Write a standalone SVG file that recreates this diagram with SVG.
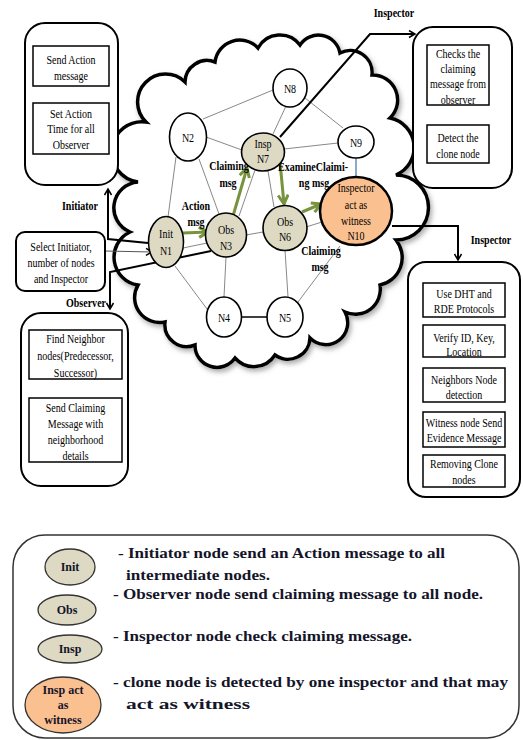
<svg xmlns="http://www.w3.org/2000/svg" width="523" height="740" viewBox="0 0 523 740">
<defs>
<style>
text{font-family:'Liberation Serif','DejaVu Serif',serif}
.t{font-size:13px;text-anchor:middle;fill:#000}
.b{font-weight:bold}
.lg{font-weight:bold;font-size:15px;fill:#15152a}
.ll{font-weight:bold;font-size:12px;fill:#15152a;text-anchor:middle}
.box{fill:#fff;stroke:#000;stroke-width:2}
.ibox{fill:#fff;stroke:#000;stroke-width:1.5}
.wn{fill:#fff;stroke:#000;stroke-width:1.6}
.tn{fill:#ddd9c3;stroke:#000;stroke-width:1.6}
.edge{stroke:#555;stroke-width:0.7;fill:none}
.conn{stroke:#000;stroke-width:2;fill:none}
.green{stroke:#77933c;stroke-width:3;fill:none}
</style>
<marker id="ga" markerUnits="userSpaceOnUse" markerWidth="14" markerHeight="14" refX="10" refY="6" orient="auto">
<path d="M1,1 L10,6 L1,11" fill="none" stroke="#77933c" stroke-width="3"/>
</marker>
<marker id="ba" markerUnits="userSpaceOnUse" markerWidth="10" markerHeight="10" refX="7" refY="4.5" orient="auto">
<path d="M1,1 L7,4.5 L1,8" fill="none" stroke="#000" stroke-width="1.5"/>
</marker>
<filter id="sh" x="-10%" y="-10%" width="125%" height="125%">
<feDropShadow dx="2" dy="3" stdDeviation="2.5" flood-color="#777" flood-opacity="0.6"/>
</filter>
</defs>
<rect width="523" height="740" fill="#fff"/>

<g id="cloud">
<path filter="url(#sh)" fill="#fff" stroke="#000" stroke-width="3.5" d="M138,182 A24,24 0 0 1 146,122 A25,25 0 0 1 185,82 A22,22 0 0 1 215,62 A25,25 0 0 1 258,48 A25,25 0 0 1 300,45 A22,22 0 0 1 340,53 A22,22 0 0 1 372,75 A25,25 0 0 1 390,118 A30,30 0 0 1 396,175 A32,32 0 0 1 396,240 A28,28 0 0 1 380,285 A25,25 0 0 1 345,312 A22,22 0 0 1 310,338 A22,22 0 0 1 275,355 A25,25 0 0 1 235,358 A22,22 0 0 1 195,345 A22,22 0 0 1 165,322 A25,25 0 0 1 138,285 A28,28 0 0 1 130,232 A26,26 0 0 1 138,182 Z"/>
</g>

<g id="connectors">
<line class="edge" x1="203" y1="119" x2="273" y2="90"/>
<line class="edge" x1="206" y1="137" x2="242" y2="150"/>
<line class="edge" x1="286" y1="106" x2="273" y2="134"/>
<line class="edge" x1="305" y1="98" x2="343" y2="128"/>
<line class="edge" x1="284" y1="149" x2="338" y2="143"/>
<line class="edge" x1="176" y1="157" x2="168" y2="217"/>
<line class="edge" x1="199" y1="159" x2="219" y2="214"/>
<line class="edge" x1="255" y1="170" x2="239" y2="216"/>
<line class="edge" x1="268" y1="171" x2="274" y2="207"/>
<line class="edge" x1="183" y1="248" x2="207" y2="243"/>
<line class="edge" x1="246" y1="235" x2="263" y2="232"/>
<line class="edge" x1="306" y1="227" x2="322" y2="222"/>
<line class="edge" x1="175" y1="266" x2="210" y2="313"/>
<line class="edge" x1="226" y1="257" x2="224" y2="297"/>
<line class="edge" x1="285" y1="250" x2="288" y2="297"/>
<line class="edge" x1="340" y1="246" x2="298" y2="302"/>
<line x1="242" y1="317" x2="267" y2="317" stroke="#000" stroke-width="1.5"/>
<line x1="356" y1="158" x2="356" y2="177" stroke="#4a7ebb" stroke-width="1.3"/>
<line class="green" x1="183" y1="233" x2="208" y2="232" marker-end="url(#ga)"/>
<line class="green" x1="233" y1="216" x2="247" y2="168" marker-end="url(#ga)"/>
<line class="green" x1="280" y1="162" x2="284" y2="204" marker-end="url(#ga)"/>
<line class="green" x1="302" y1="212" x2="321" y2="204" marker-end="url(#ga)"/>
<polyline class="conn" points="148,243 108,239 108,189" marker-end="url(#ba)"/>
<line x1="105" y1="251" x2="152" y2="252" stroke="#555" stroke-width="1" marker-end="url(#ba)"/>
<polyline class="conn" points="211,251 110,272 110,309" marker-end="url(#ba)"/>
<polyline class="conn" points="280,137 370,34 415,34" marker-end="url(#ba)"/>
<polyline class="conn" points="392,226 458,226 458,260" marker-end="url(#ba)"/>
<text class="t b" transform="translate(80,210) scale(0.77,1)">Initiator</text>
<text class="t b" transform="translate(86,307) scale(0.77,1)">Observer</text>
<text class="t b" transform="translate(394,17) scale(0.77,1)">Inspector</text>
<text class="t b" transform="translate(491,244) scale(0.77,1)">Inspector</text>
<text class="t b" transform="translate(196,210) scale(0.77,1)">Action</text>
<text class="t b" transform="translate(196,226) scale(0.77,1)">msg</text>
<text class="t b" transform="translate(229,170) scale(0.77,1)">Claiming</text>
<text class="t b" transform="translate(228,187) scale(0.77,1)">msg</text>
<text class="t b" transform="translate(313,171) scale(0.77,1)">ExamineClaimi-</text>
<text class="t b" transform="translate(314,187) scale(0.77,1)">ng msg</text>
<text class="t b" transform="translate(321,255) scale(0.77,1)">Claiming</text>
<text class="t b" transform="translate(320,271) scale(0.77,1)">msg</text>
</g>

<g id="box-initiator">
<rect class="box" x="25" y="23" width="93" height="162" rx="20"/>
<rect class="ibox" x="33" y="46" width="76" height="40"/>
<rect class="ibox" x="33" y="103" width="76" height="51"/>
<text class="t" transform="translate(71,63.5) scale(0.77,1)">Send Action</text>
<text class="t" transform="translate(71,79.5) scale(0.77,1)">message</text>
<text class="t" transform="translate(71,117.5) scale(0.77,1)">Set Action</text>
<text class="t" transform="translate(71,133) scale(0.77,1)">Time for  all</text>
<text class="t" transform="translate(71,149) scale(0.77,1)">Observer</text>
</g>

<g id="box-inspector-top">
<rect class="box" x="413" y="27" width="99" height="161" rx="20"/>
<rect class="ibox" x="427" y="45" width="62" height="60"/>
<rect class="ibox" x="427" y="125" width="62" height="38"/>
<text class="t" transform="translate(458,57.5) scale(0.77,1)">Checks the</text>
<text class="t" transform="translate(458,72.5) scale(0.77,1)">claiming</text>
<text class="t" transform="translate(458,88) scale(0.77,1)">message  from</text>
<text class="t" transform="translate(458,103.5) scale(0.77,1)">observer</text>
<text class="t" transform="translate(458,141.5) scale(0.77,1)">Detect the</text>
<text class="t" transform="translate(458,157.5) scale(0.77,1)">clone node</text>
</g>

<g id="box-select">
<rect class="box" x="16" y="232" width="89" height="59" rx="9"/>
<text class="t" transform="translate(61,251) scale(0.77,1)">Select Initiator,</text>
<text class="t" transform="translate(61,266.5) scale(0.77,1)">number of nodes</text>
<text class="t" transform="translate(61,282.5) scale(0.77,1)">and Inspector</text>
</g>

<g id="box-observer">
<rect class="box" x="21" y="313" width="107" height="173" rx="20"/>
<rect class="ibox" x="29" y="330" width="93" height="49"/>
<rect class="ibox" x="29" y="398" width="93" height="64"/>
<text class="t" transform="translate(75.5,342.5) scale(0.77,1)">Find Neighbor</text>
<text class="t" transform="translate(75.5,359.5) scale(0.77,1)">nodes(Predecessor,</text>
<text class="t" transform="translate(75.5,376.5) scale(0.77,1)">Successor)</text>
<text class="t" transform="translate(75.5,411.5) scale(0.77,1)">Send Claiming</text>
<text class="t" transform="translate(75.5,427.5) scale(0.77,1)">Message with</text>
<text class="t" transform="translate(75.5,443.5) scale(0.77,1)">neighborhood</text>
<text class="t" transform="translate(75.5,459.5) scale(0.77,1)">details</text>
</g>

<g id="box-inspector-right">
<rect class="box" x="408" y="262" width="112" height="235" rx="18"/>
<rect class="ibox" x="423" y="283" width="82" height="34"/>
<rect class="ibox" x="423" y="325" width="82" height="32"/>
<rect class="ibox" x="423" y="368" width="82" height="34"/>
<rect class="ibox" x="423" y="412" width="82" height="35"/>
<rect class="ibox" x="423" y="455" width="82" height="32"/>
<text class="t" transform="translate(464,297.5) scale(0.77,1)">Use DHT and</text>
<text class="t" transform="translate(464,312.5) scale(0.77,1)">RDE Protocols</text>
<text class="t" transform="translate(464,341.5) scale(0.77,1)">Verify ID, Key,</text>
<text class="t" transform="translate(464,355.5) scale(0.77,1)">Location</text>
<text class="t" transform="translate(464,383.5) scale(0.77,1)">Neighbors Node</text>
<text class="t" transform="translate(464,398.5) scale(0.77,1)">detection</text>
<text class="t" transform="translate(464,426.5) scale(0.77,1)">Witness node Send</text>
<text class="t" transform="translate(464,441.5) scale(0.77,1)">Evidence Message</text>
<text class="t" transform="translate(464,467.5) scale(0.77,1)">Removing Clone</text>
<text class="t" transform="translate(464,483.5) scale(0.77,1)">nodes</text>
</g>

<g id="N1">
<ellipse class="tn" cx="166" cy="242" rx="17.5" ry="25.5"/>
<text class="t" transform="translate(166,237.5) scale(0.77,1)">Init</text>
<text class="t" transform="translate(166,254.5) scale(0.77,1)">N1</text>
</g>
<g id="N2">
<ellipse class="wn" cx="188" cy="137" rx="18.5" ry="24"/>
<text class="t" transform="translate(188,141.5) scale(0.77,1)">N2</text>
</g>
<g id="N3">
<ellipse class="tn" cx="226" cy="235" rx="20.5" ry="22"/>
<text class="t" transform="translate(226,233.5) scale(0.77,1)">Obs</text>
<text class="t" transform="translate(226,249.5) scale(0.77,1)">N3</text>
</g>
<g id="N4">
<ellipse class="wn" cx="224" cy="317" rx="17.5" ry="20"/>
<text class="t" transform="translate(224,321.5) scale(0.77,1)">N4</text>
</g>
<g id="N5">
<ellipse class="wn" cx="285" cy="317" rx="18" ry="20"/>
<text class="t" transform="translate(285,321.5) scale(0.77,1)">N5</text>
</g>
<g id="N6">
<ellipse class="tn" cx="285" cy="228" rx="22" ry="22.5"/>
<text class="t" transform="translate(285,225.5) scale(0.77,1)">Obs</text>
<text class="t" transform="translate(285,240.5) scale(0.77,1)">N6</text>
</g>
<g id="N7">
<ellipse class="tn" cx="263" cy="152" rx="21.5" ry="19"/>
<text class="t" transform="translate(263,147.5) scale(0.77,1)">Insp</text>
<text class="t" transform="translate(263,162.5) scale(0.77,1)">N7</text>
</g>
<g id="N8">
<ellipse class="wn" cx="290" cy="88" rx="17" ry="19"/>
<text class="t" transform="translate(290,92.5) scale(0.77,1)">N8</text>
</g>
<g id="N9">
<ellipse class="wn" cx="356" cy="142" rx="18" ry="16"/>
<text class="t" transform="translate(356,146.5) scale(0.77,1)">N9</text>
</g>
<g id="N10">
<ellipse cx="356" cy="211" rx="36" ry="34" fill="#fac090" stroke="#000" stroke-width="2.5"/>
<text class="t" transform="translate(356,191.5) scale(0.77,1)">Inspector</text>
<text class="t" transform="translate(356,208.5) scale(0.77,1)">act as</text>
<text class="t" transform="translate(356,224.5) scale(0.77,1)">witness</text>
<text class="t" transform="translate(356,239.5) scale(0.77,1)">N10</text>
</g>

<g id="legend">
<rect x="13" y="535" width="506" height="203" rx="32" fill="#fff" stroke="#333" stroke-width="1.5"/>
<ellipse cx="70" cy="567" rx="25" ry="18" fill="#ddd9c3" stroke="#333" stroke-width="1.3"/>
<text class="ll" x="70" y="571">Init</text>
<ellipse cx="67" cy="610" rx="29" ry="15" fill="#ddd9c3" stroke="#333" stroke-width="1.3"/>
<text class="ll" x="67" y="614">Obs</text>
<ellipse cx="70" cy="649" rx="32" ry="14" fill="#ddd9c3" stroke="#333" stroke-width="1.3"/>
<text class="ll" x="70" y="653">Insp</text>
<ellipse cx="63" cy="705" rx="38" ry="28" fill="#fac090" stroke="#333" stroke-width="1.3"/>
<text class="ll" x="63" y="694">Insp act</text>
<text class="ll" x="63" y="709">as</text>
<text class="ll" x="63" y="724">witness</text>
<text class="lg" x="118" y="558" textLength="327" lengthAdjust="spacingAndGlyphs">-  Initiator node send an Action message to all</text>
<text class="lg" x="126" y="580" textLength="144" lengthAdjust="spacingAndGlyphs">intermediate nodes.</text>
<text class="lg" x="113" y="599" textLength="370" lengthAdjust="spacingAndGlyphs">- Observer node send claiming message to all node.</text>
<text class="lg" x="113" y="641" textLength="299" lengthAdjust="spacingAndGlyphs">- Inspector node check claiming message.</text>
<text class="lg" x="113" y="687" textLength="395" lengthAdjust="spacingAndGlyphs">- clone node is detected by one inspector and that  may</text>
<text class="lg" x="126" y="709" textLength="124" lengthAdjust="spacingAndGlyphs">act as witness</text>
</g>
</svg>
